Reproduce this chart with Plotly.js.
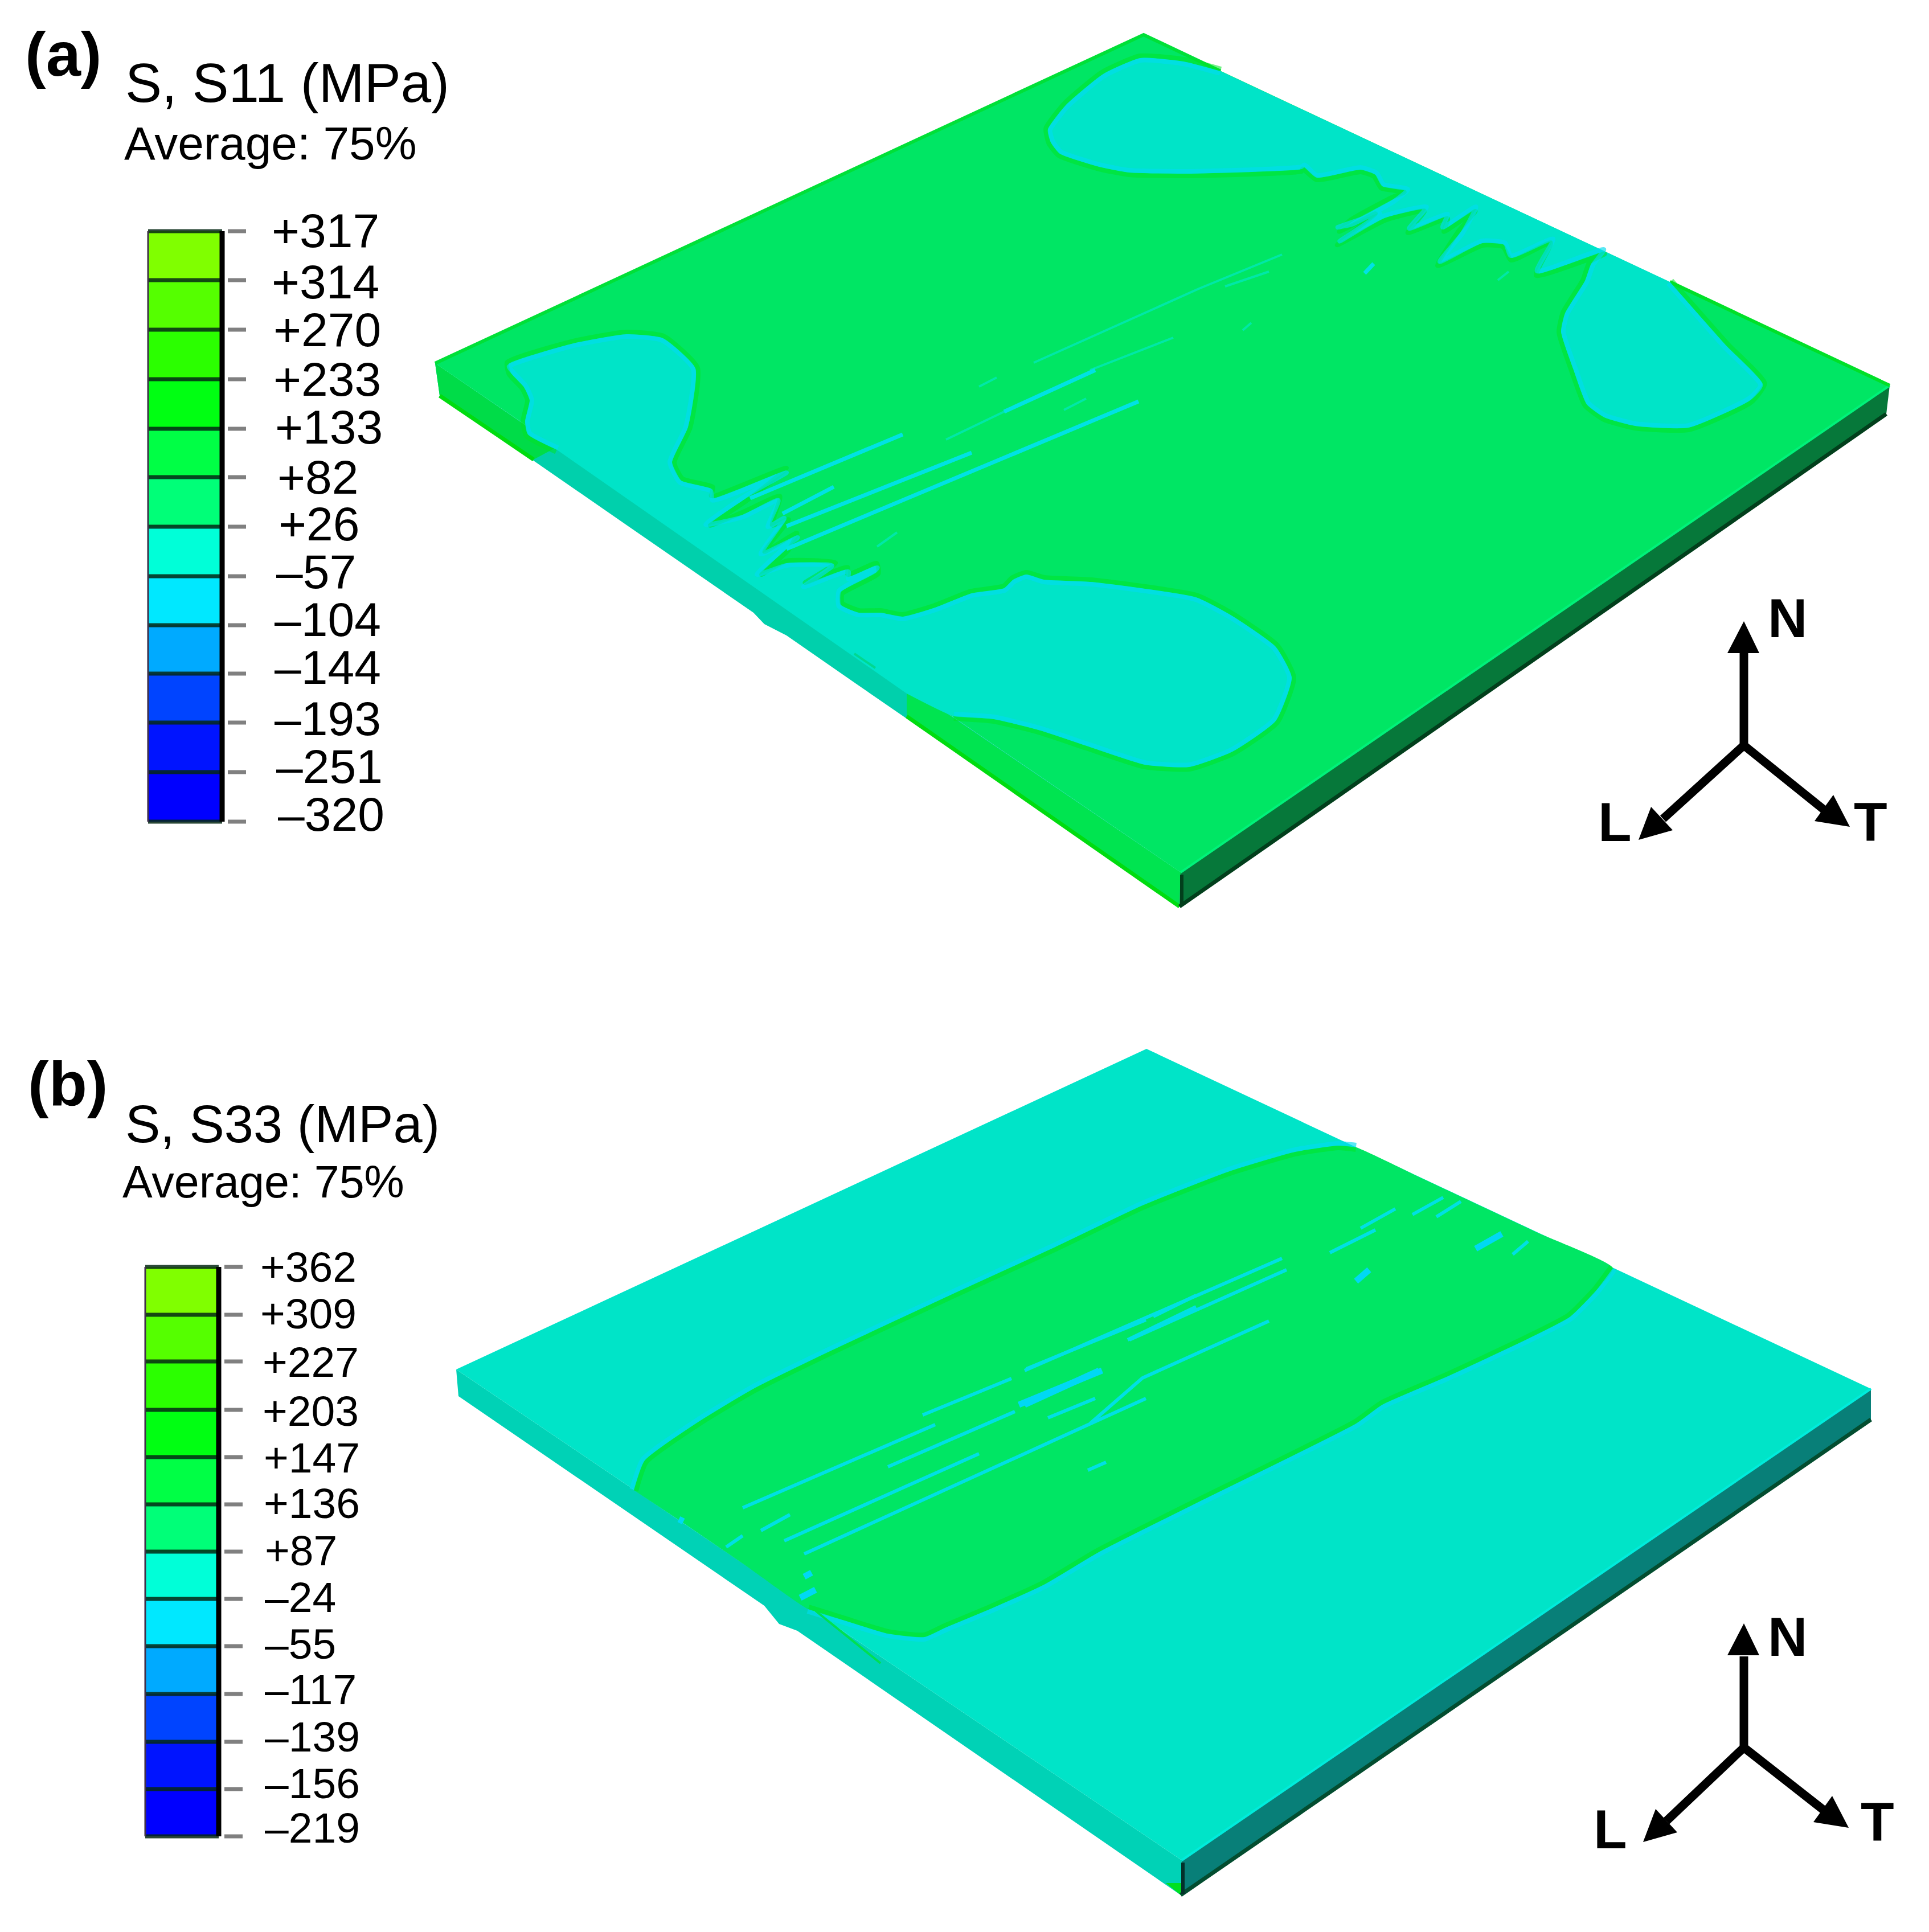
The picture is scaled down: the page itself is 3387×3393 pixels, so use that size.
<!DOCTYPE html>
<html>
<head>
<meta charset="utf-8">
<script src="https://cdn.plot.ly/plotly-3.0.1.min.js"></script>
<style>body{margin:0;background:#fff}</style>
</head>
<body>
<div id="plot"></div>
<script>
// legend values
var s11Labels = ["+317","+314","+270","+233","+133","+82","+26","–57","–104","–144","–193","–251","–320"];
var s33Labels = ["+362","+309","+227","+203","+147","+136","+87","–24","–55","–117","–139","–156","–219"];
var bandColors = ["#80ff00","#55ff00","#2bff00","#00ff12","#00ff45","#00ff78","#00ffd8","#00e8ff","#00aaff","#0044ff","#0014ff","#0000ff"];

// legend geometry, image pixels
var s11Levels = [406,492,579,666,753,838,925,1012,1098,1183,1269,1356,1443];
var s33Levels = [2225,2309,2391,2476,2559,2642,2725,2808,2891,2975,3059,3142,3225];
var s11LabelY = [413,503,587,674,758,846,928,1012,1096,1180,1270,1354,1438];
var s33LabelY = [2232,2314,2399,2485,2567,2647,2730,2812,2894,2974,3057,3139,3217];
var s11LabelX = [477,477,480,480,483,487,489,485,482,482,482,485,488];
var s33LabelX = [457,457,461,461,463,463,465,465,465,465,465,465,465];

// plate (a) top face and side faces
var plateAx = [764,2008,3318,2073];
var plateAy = [638,61,677,1532];
var sideLeftAx = [764,2073,2071,1502,1381,1342,1323,1100,772];
var sideLeftAy = [638,1532,1592,1200,1116,1096,1076,922,695];
var sideRightAx = [2073,3318,3312,2071];
var sideRightAy = [1532,677,727,1592];

// plate (a) contour boundaries
var lowerAx = [978,927,922,930,920,897,892,1007,1100,1164,1221,1208,1180,1196,1250,1250,1381,1310,1243,1304,1368,1352,1381,1339,1400,1381,1333,1381,1464,1412,1489,1489,1540,1540,1476,1476,1508,1546,1585,1642,1706,1763,1779,1802,1833,1916,2100,2164,2240,2268,2240,2164,2088,2010,1908,1827,1745,1675];
var lowerAy = [790,763,740,703,680,655,640,603,587,594,647,750,812,844,859,875,826,875,922,904,875,924,911,971,940,964,1009,989,991,1027,1000,1013,993,1004,1040,1062,1076,1076,1083,1067,1042,1033,1018,1009,1018,1022,1049,1082,1136,1190,1266,1320,1347,1343,1310,1283,1263,1258];
var upperAx = [2143,2078,2002,1937,1872,1840,1845,1861,1930,1983,2083,2197,2285,2289,2312,2389,2415,2427,2469,2446,2373,2350,2419,2350,2431,2503,2473,2542,2534,2591,2565,2526,2603,2641,2653,2725,2698,2817,2794,2783,2748,2741,2763,2786,2817,2871,2965,3073,3095,3030,2932];
var upperAy = [125,108,102,130,184,227,250,270,293,303,305,302,297,293,312,298,307,327,335,350,390,403,375,427,383,367,405,380,403,367,407,463,427,430,453,423,480,442,463,493,550,583,650,710,733,748,751,703,675,606,495];

// plate (a) cyan streaks, null splits the segments
var streakAx = [1923,1763,null,1999,1527,1381,null,1706,1381,null,1585,1317,null,1464,1374,null,2412,2396];
var streakAy = [650,723,null,705,902,964,null,795,924,null,763,875,null,855,902,null,463,480];
var faintAx = [1763,1661,null,2251,2105,1815,null,1750,1719,null,1575,1540,null,2060,1914,null,2228,2151,null,1907,1868,null,2649,2630,null,2197,2182];
var faintAy = [723,772,null,447,507,637,null,663,679,null,935,960,null,593,650,null,477,503,null,700,720,null,477,492,null,567,580];

// plate (b) top face and side faces
var plateBx = [801,2013,3285,2075];
var plateBy = [2405,1842,2439,3267];
var sideLeftBx = [801,2075,2073,1400,1368,1342,805];
var sideLeftBy = [2405,3267,3328,2864,2852,2820,2452];
var sideRightBx = [2075,3285,3285,2073];
var sideRightBy = [3267,2439,2493,3328];
var tipBx = [2047,2073,2075];
var tipBy = [3307,3328,3307];

// plate (b) contour: upper boundary, right plate edge, lower boundary, left plate edge
var bandTopX = [1113,1132,1228,1323,1451,1674,1853,2006,2159,2274,2350,2381];
var bandTopY = [2617,2565,2496,2439,2376,2272,2190,2117,2057,2023,2012,2015];
var bandRightEdgeX = [2500,2700];
var bandRightEdgeY = [2071,2165];
var bandLowX = [2832,2802,2756,2679,2542,2427,2381,2100,1929,1833,1738,1661,1623,1559,1483,1419];
var bandLowY = [2227,2267,2313,2353,2417,2467,2500,2640,2726,2783,2826,2858,2875,2869,2846,2826];
var bandLeftEdgeX = [1310,1196];
var bandLeftEdgeY = [2750,2672];

// plate (b) cyan streaks
var streakBx = [1412,2012,null,1377,1719,null,1304,1642,null,1559,1782,null,1620,1776,null,1802,2012,null,1840,1923,null,2251,1930,1799,null,2259,1983,null,2228,2006,1914,null,2415,2335,null,2683,2656,null,2565,2522,null,2534,2480,null,2450,2389,null,1980,2100,null,2025,2100,null,1910,1942,null,1336,1387,null,1275,1304];
var streakBy = [2729,2456,null,2706,2553,null,2648,2502,null,2576,2479,null,2485,2421,null,2404,2318,null,2490,2456,null,2210,2350,2407,null,2230,2353,null,2320,2420,2500,null,2160,2200,null,2180,2203,null,2110,2137,null,2103,2133,null,2123,2157,null,2353,2295,null,2312,2275,null,2582,2568,null,2688,2660,null,2717,2697];
var blobBx = [1789,1935,null,1930,1799,null,2637,2591,null,2404,2381,null,1192,1200,null,1412,1425,null,1405,1432];
var blobBy = [2467,2407,null,2407,2467,null,2167,2193,null,2230,2250,null,2668,2672,null,2769,2762,null,2806,2792];

// triad geometry
var triadOx = [3062,3062], triadOy = [1309,3069];
var triadNy = [1147,2909];
var triadLx = [2920,2926], triadLy = [1438,3198];
var triadTx = [3205,3206], triadTy = [1424,3182];
var headNx = [3062,3033,3089], headNy = [1091,1147,1147];
var headLx = [2877,2899,2937], headLy = [1475,1417,1458];
var headTx = [3248,3219,3186], headTy = [1452,1396,1442];

var cFaceGreen = "#00e664", cFaceCyan = "#00e4c8", cRimGreen = "rgba(0,228,40,0.55)", cRimCyan = "rgba(0,220,238,0.65)";

function poly(x, y, fill) {
  return {x: x, y: y, type: "scatter", mode: "none", fill: "toself", fillcolor: fill, hoverinfo: "skip"};
}
// contour fill, smooth outline
function contour(x, y, fill) {
  return {x: x, y: y, type: "scatter", mode: "lines", fill: "toself", fillcolor: fill,
    line: {width: 0, shape: "spline", smoothing: 0.5}, hoverinfo: "skip"};
}
function line(x, y, color, width, shape) {
  return {x: x, y: y, type: "scatter", mode: "lines", line: {color: color, width: width, shape: shape || "linear", smoothing: 0.5}, hoverinfo: "skip"};
}
// shift a boundary along its normals, sign picks the side
function offset(bx, by, d) {
  var n = bx.length, ox = [], oy = [];
  for (var k = 0; k < n; k++) {
    var a = Math.max(k - 1, 0), b = Math.min(k + 1, n - 1);
    var tx = bx[b] - bx[a], ty = by[b] - by[a], len = Math.sqrt(tx * tx + ty * ty) || 1;
    ox.push(bx[k] + d * ty / len);
    oy.push(by[k] - d * tx / len);
  }
  return {x: ox, y: oy};
}
function signedArea(bx, by) {
  var area = 0, n = bx.length;
  for (var i = 0; i < n; i++) {
    var j = (i + 1) % n;
    area += bx[i] * by[j] - bx[j] * by[i];
  }
  return area > 0 ? 1 : -1;
}
// rim lines either side of an open boundary, sign points out of the fill
function rims(bx, by, sign, outColor, inColor) {
  var o = offset(bx, by, sign * 4), inner = offset(bx, by, -sign * 4);
  data.push(line(o.x, o.y, outColor, 8, "spline"));
  data.push(line(inner.x, inner.y, inColor, 8, "spline"));
}

var data = [];

// plate (a)
data.push(poly(sideLeftAx, sideLeftAy, "#00d0ac"));
data.push(poly([764,978,937,772], [638,785,807,695], "#00dc48"));
data.push(poly([1592,2073,2071,1592], [1205,1532,1592,1258], "#00e450"));
data.push(line([937,772], [807,695], "#00dc10", 7));
data.push(line([1592,2071], [1258,1592], "#00dc10", 7));
data.push(poly(sideRightAx, sideRightAy, "#06783a"));
data.push(line([2071,3312], [1592,727], "#023f1c", 7));
data.push(line([2075,2075], [1536,1590], "#023f1c", 6));
data.push(poly(plateAx, plateAy, cFaceGreen));
data.push(line([2073,3318], [1532,677], "#00f27a", 4));
data.push(line([764,2008,2143], [638,61,125], "#00e038", 6));
data.push(line([2932,3318], [495,677], "#00e028", 6));
data.push(contour(lowerAx.concat([1592]), lowerAy.concat([1218]), cFaceCyan));
data.push(contour(upperAx, upperAy, cFaceCyan));
rims(lowerAx, lowerAy, signedArea(lowerAx, lowerAy), cRimGreen, cRimCyan);
rims(upperAx, upperAy, signedArea(upperAx, upperAy), cRimGreen, cRimCyan);
data.push(line(faintAx, faintAy, "#00e8a8", 4));
data.push(line(streakAx, streakAy, "#00e2e4", 7));
data.push(line([1500,1537], [1148,1173], "#00d890", 4));

// plate (b)
data.push(poly(sideLeftBx, sideLeftBy, "#00d2b6"));
data.push(poly(sideRightBx, sideRightBy, "#087f78"));
data.push(poly(tipBx, tipBy, "#00e020"));
data.push(line([2073,3285], [3328,2493], "#034d30", 7));
data.push(line([2077,2077], [3271,3326], "#03302a", 6));
data.push(poly(plateBx, plateBy, cFaceCyan));
data.push(line([2075,3285], [3267,2439], "#00ecdc", 4));
var bandX = bandTopX.concat(bandRightEdgeX, bandLowX, bandLeftEdgeX);
var bandY = bandTopY.concat(bandRightEdgeY, bandLowY, bandLeftEdgeY);
var bandSign = signedArea(bandX, bandY);
data.push(contour(bandX, bandY, cFaceGreen));
rims(bandTopX, bandTopY, bandSign, cRimCyan, cRimGreen);
rims(bandLowX, bandLowY, bandSign, cRimCyan, cRimGreen);
data.push(line(streakBx, streakBy, "#00e0e4", 6));
data.push(line(blobBx, blobBy, "#00d8f4", 11));
data.push(line([1432,1546], [2829,2921], "#00e050", 4));

// legends: bands as bars on the pixel axes
function legend(levels, x0, x1, labels, labelX, labelY, fontSize) {
  var base = [], h = [], mid = [], sep = [], sepX = [], tickX = [], tickY = [];
  for (var i = 0; i < levels.length - 1; i++) {
    base.push(levels[i]);
    h.push(levels[i + 1] - levels[i]);
    mid.push((x0 + x1) / 2);
  }
  data.push({type: "bar", x: mid, y: h, base: base, width: x1 - x0, marker: {color: bandColors, line: {width: 0}}, hoverinfo: "skip"});
  for (var j = 0; j < levels.length; j++) {
    sepX.push(x0, x1, null);
    sep.push(levels[j], levels[j], null);
    tickX.push(x1 + 10, x1 + 42, null);
    tickY.push(levels[j], levels[j], null);
  }
  data.push(line(sepX, sep, "rgba(5,40,20,0.85)", 7));
  data.push(line(tickX, tickY, "#808080", 7));
  data.push(line([x0, x0], [levels[0], levels[levels.length - 1]], "#40304a", 3));
  data.push(line([x1, x1], [levels[0], levels[levels.length - 1]], "#000", 9));
  data.push({type: "scatter", mode: "text", x: labelX, y: labelY, text: labels, textposition: "middle right",
    textfont: {family: "Liberation Sans", size: fontSize, color: "#000"}, hoverinfo: "skip"});
}
legend(s11Levels, 260, 390, s11Labels, s11LabelX, s11LabelY, 84);
legend(s33Levels, 255, 384, s33Labels, s33LabelX, s33LabelY, 75);

// triads
for (var k = 0; k < 2; k++) {
  var dy = triadOy[k] - triadOy[0];
  data.push(line([triadOx[k], triadOx[k]], [triadOy[k], triadNy[k]], "#000", 15));
  data.push(line([triadLx[k], triadOx[k], triadTx[k]], [triadLy[k], triadOy[k], triadTy[k]], "#000", 15));
  data.push(poly(headNx, headNy.map(function (v) { return v + dy; }), "#000"));
  data.push(poly(headLx.map(function (v) { return v + k * 8; }), headLy.map(function (v) { return v + dy; }), "#000"));
  data.push(poly(headTx.map(function (v) { return v - k * 2; }), headTy.map(function (v) { return v + dy - k * 2; }), "#000"));
}

function note(text, x, y, size, bold) {
  return {text: text, x: x, y: y, xref: "x", yref: "y", xanchor: "left", yanchor: "middle", showarrow: false,
    borderpad: 0, font: {family: "Liberation Sans", size: size, color: "#000", weight: bold ? 700 : 400}};
}

var layout = {
  width: 3387, height: 3393,
  margin: {l: 0, r: 0, t: 0, b: 0},
  paper_bgcolor: "#fff", plot_bgcolor: "#fff",
  showlegend: false,
  xaxis: {range: [0, 3387], visible: false, fixedrange: true},
  yaxis: {range: [3393, 0], visible: false, fixedrange: true},
  annotations: [
    note("(a)", 43, 94, 110, true),
    note("S, S11 (MPa)", 219, 145, 96),
    note("Average: 75%", 217, 251, 82),
    note("(b)", 48, 1902, 110, true),
    note("S, S33 (MPa)", 219, 1974, 92),
    note("Average: 75%", 214, 2075, 79),
    note("N", 3103, 1085, 96, true),
    note("L", 2805, 1443, 96, true),
    note("T", 3254, 1443, 96, true),
    note("N", 3103, 2874, 96, true),
    note("L", 2797, 3212, 96, true),
    note("T", 3266, 3199, 96, true)
  ]
};

Plotly.newPlot("plot", data, layout, {staticPlot: true});
</script>
</body>
</html>
